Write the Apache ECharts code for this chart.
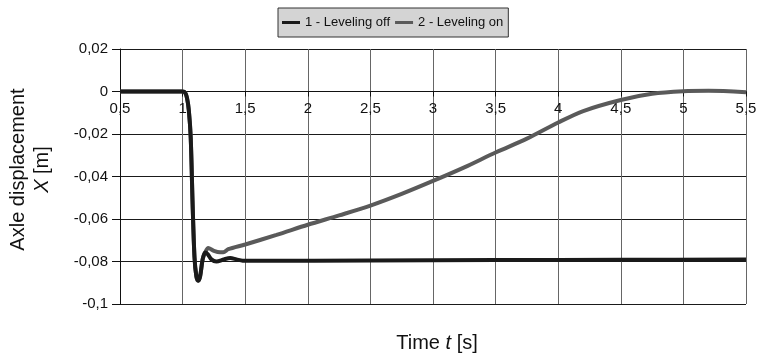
<!DOCTYPE html>
<html>
<head>
<meta charset="utf-8">
<script src="https://cdn.jsdelivr.net/npm/echarts@6/dist/echarts.min.js"></script>
<style>
  html, body { margin: 0; padding: 0; background: #fff; }
  #chart { width: 759px; height: 355px; }
</style>
</head>
<body>
<div id="chart"></div>
<script>
// Axle displacement over time, with and without leveling
const seriesNames = ['1 - Leveling off', '2 - Leveling on'];

const timeOff = [0.5, 1.0, 1.02, 1.035, 1.05, 1.065, 1.08, 1.095, 1.11, 1.125, 1.14, 1.16, 1.18, 1.2, 1.23, 1.27, 1.33, 1.38, 1.43, 1.48, 1.6, 2.5, 3.5, 4.5, 5.5];
const dispOff = [0, 0, -0.0005, -0.003, -0.009, -0.022, -0.053, -0.078, -0.087, -0.089, -0.087, -0.079, -0.0758, -0.0765, -0.079, -0.080, -0.0790, -0.0784, -0.0790, -0.0796, -0.0797, -0.0795, -0.0793, -0.0792, -0.0790];

const timeOn = [0.5, 1.0, 1.02, 1.035, 1.05, 1.065, 1.08, 1.095, 1.11, 1.125, 1.14, 1.16, 1.18, 1.205, 1.25, 1.3, 1.325, 1.365, 1.5, 1.75, 2.0, 2.25, 2.5, 2.75, 3.0, 3.25, 3.5, 3.75, 4.0, 4.2, 4.5, 4.75, 5.0, 5.2, 5.5];
const dispOn = [0, 0, -0.0005, -0.003, -0.009, -0.022, -0.053, -0.078, -0.087, -0.089, -0.087, -0.079, -0.0758, -0.0737, -0.0750, -0.0757, -0.0757, -0.0742, -0.0720, -0.0675, -0.0627, -0.0583, -0.0537, -0.0482, -0.0421, -0.0357, -0.0287, -0.0222, -0.0146, -0.0092, -0.0040, -0.0011, 0.0001, 0.0003, -0.0003];

const xTicks = [0.5, 1, 1.5, 2, 2.5, 3, 3.5, 4, 4.5, 5, 5.5];
const yTicks = [0.02, 0, -0.02, -0.04, -0.06, -0.08, -0.1];

const zip = (xs, ys) => xs.map((x, i) => [x, ys[i]]);
const comma = v => String(Math.round(v * 1000) / 1000).replace('.', ',');
const FONT = '"Liberation Sans", Arial, sans-serif';

// Grid box
const GRID = { left: 120, right: 13, top: 49, bottom: 51 };
const CH = 355;
const yMin = yTicks[yTicks.length - 1];
const yMax = yTicks[0];
// Lift the time axis from the bottom edge up to the zero line
const plotH = CH - GRID.top - GRID.bottom;
const zeroLift = plotH * (0 - yMin) / (yMax - yMin);

const chart = echarts.init(document.getElementById('chart'), null, { renderer: 'canvas' });

chart.setOption({
  animation: false,
  backgroundColor: '#fff',
  textStyle: { fontFamily: FONT },
  grid: Object.assign({ containLabel: false, outerBoundsMode: 'none' }, GRID),
  legend: {
    left: 278,
    top: 8,
    data: seriesNames,
    icon: 'rect',
    itemWidth: 18,
    itemHeight: 3,
    itemGap: 5,
    padding: [8, 5, 8, 4],
    backgroundColor: '#d4d4d4',
    borderColor: '#333',
    borderWidth: 1,
    textStyle: { fontSize: 13, color: '#111', fontFamily: FONT }
  },
  xAxis: {
    type: 'value',
    position: 'bottom',
    offset: -zeroLift,
    min: xTicks[0],
    max: xTicks[xTicks.length - 1],
    interval: 0.5,
    axisLine: { show: true, onZero: false, lineStyle: { color: '#111', width: 1 } },
    axisTick: { show: true, length: 5, lineStyle: { color: '#111' } },
    axisLabel: { fontSize: 15, color: '#111', margin: 10, formatter: comma, fontFamily: FONT },
    splitLine: { show: true, lineStyle: { color: '#666', width: 1 } },
    name: 'Time {it|t} [s]',
    nameLocation: 'middle',
    nameGap: 242,
    nameTextStyle: {
      fontSize: 20, color: '#111', fontFamily: FONT, padding: [0, 0, 0, 8],
      rich: { it: { fontSize: 20, fontStyle: 'italic', color: '#111', fontFamily: FONT } }
    }
  },
  yAxis: {
    type: 'value',
    min: yMin,
    max: yMax,
    interval: 0.02,
    axisLine: { show: true, lineStyle: { color: '#111', width: 1 } },
    axisTick: { show: true, length: 8, lineStyle: { color: '#111' } },
    axisLabel: { fontSize: 15, color: '#111', margin: 12, formatter: comma, fontFamily: FONT },
    splitLine: { show: true, lineStyle: { color: '#1a1a1a', width: 1 } },
    name: 'Axle displacement\n{it|X} [m]',
    nameLocation: 'middle',
    nameGap: 66,
    nameTextStyle: {
      fontSize: 20, color: '#111', lineHeight: 24, align: 'center', fontFamily: FONT,
      padding: [0, 0, 0, 14],
      rich: { it: { fontSize: 20, fontStyle: 'italic', color: '#111', lineHeight: 24, fontFamily: FONT } }
    }
  },
  series: [
    {
      name: seriesNames[0],
      type: 'line',
      data: zip(timeOff, dispOff),
      smooth: 0.3,
      showSymbol: false,
      z: 4,
      color: '#1a1a1a',
      lineStyle: { color: '#1a1a1a', width: 4 }
    },
    {
      name: seriesNames[1],
      type: 'line',
      data: zip(timeOn, dispOn),
      smooth: 0.3,
      showSymbol: false,
      z: 3,
      color: '#5a5a5a',
      lineStyle: { color: '#5a5a5a', width: 4 }
    }
  ]
});
</script>
</body>
</html>
